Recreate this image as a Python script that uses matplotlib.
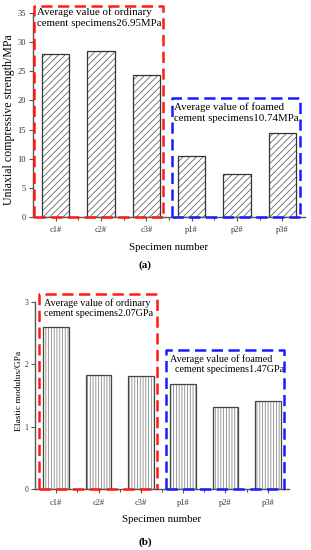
import matplotlib
matplotlib.use("Agg")
import matplotlib.pyplot as plt

plt.rcParams['font.family'] = ['Liberation Serif', 'DejaVu Serif']
plt.rcParams['hatch.linewidth'] = 0.6

specimens = ["c1#", "c2#", "c3#", "p1#", "p2#", "p3#"]
strength = [27.95, 28.45, 24.45, 10.45, 7.35, 14.45]
modulus = [2.59, 1.82, 1.81, 1.69, 1.31, 1.41]
ordinary_txt_a = "Average value of ordinary\ncement specimens26.95MPa"
foamed_txt_a = "Average value of foamed\ncement specimens10.74MPa"
ordinary_txt_b = "Average value of ordinary\ncement specimens2.07GPa"
foamed_txt_b = "Average value of foamed\n  cement specimens1.47GPa"

W, H = 311, 550
fig = plt.figure(figsize=(W / 100, H / 100), dpi=100)

spine_col = "#555555"


def style_axes(ax, ylab_size):
    for s in ["top", "right"]:
        ax.spines[s].set_visible(False)
    for s in ["left", "bottom"]:
        ax.spines[s].set_color(spine_col)
        ax.spines[s].set_linewidth(1.0)
    ax.tick_params(axis="y", direction="out", length=3, width=0.8,
                   colors=spine_col, labelsize=ylab_size,
                   labelcolor="#333333", pad=2)
    ax.tick_params(axis="x", which="major", direction="out", length=3,
                   width=0.8, colors=spine_col, labelsize=6,
                   labelcolor="#333333", pad=4)
    ax.tick_params(axis="x", which="minor", direction="out", length=2,
                   width=0.8, colors=spine_col)


def hatched_bars(ax, vals, hatch, hatch_col, edge_col):
    # hatch color follows edgecolor, so draw hatch and outline separately
    ax.bar(pos, vals, width=0.6, color="white", edgecolor=hatch_col,
           linewidth=0, hatch=hatch, zorder=2)
    ax.bar(pos, vals, width=0.6, color="none", edgecolor=edge_col,
           linewidth=0.9, zorder=3)


def dashed_box(ax, x0, x1, top, color):
    ax.plot([x0, x0, x1, x1], [0, top, top, 0], color=color, lw=1.8,
            ls=(0, (4.5, 2.2)), clip_on=False, zorder=5)
    ax.plot([x0, x1], [0, 0], color=color, lw=1.8, ls=(0, (4.5, 2.2)),
            clip_on=False, zorder=5)


pos = list(range(1, 7))
half = [p + 0.5 for p in pos[:-1]]

# panel (a)
ax1 = fig.add_axes([33 / W, 1 - 216.7 / H, 272 / W, 203.4 / H])
hatched_bars(ax1, strength, "/////", "#666666", "#333333")
ax1.set_xlim(0.5, 6.5)
ax1.set_ylim(0, 35)
ax1.set_yticks(range(0, 36, 5))
ax1.set_xticks(pos)
ax1.set_xticks(half, minor=True)
ax1.set_xticklabels(specimens)
style_axes(ax1, 6)
ax1.set_ylabel("Uniaxial compressive strength/MPa", fontsize=8.6)
ax1.yaxis.set_label_coords(-0.066, 0.475)
ax1.set_xlabel("Specimen number", fontsize=7.8, labelpad=6)
dashed_box(ax1, 0.52, 3.37, 36.3, "#ff1a1a")
dashed_box(ax1, 3.57, 6.39, 20.4, "#1a1aff")
ax1.text(0.58, 36.0, ordinary_txt_a, fontsize=7.8, va="top", ha="left",
         linespacing=1.2, clip_on=False)
ax1.text(3.62, 19.6, foamed_txt_a, fontsize=7.8, va="top", ha="left",
         linespacing=1.2)
fig.text(145 / W, 1 - 265 / H, "(a)", fontsize=8, fontweight="bold",
         ha="center", va="center")

# panel (b)
ax2 = fig.add_axes([35 / W, 1 - 489.3 / H, 254 / W, 187.6 / H])
hatched_bars(ax2, modulus, "||||||", "#888888", "#444444")
ax2.set_xlim(0.5, 6.5)
ax2.set_ylim(0, 3)
ax2.set_yticks([0, 1, 2, 3])
ax2.set_xticks(pos)
ax2.set_xticks(half, minor=True)
ax2.set_xticklabels(specimens)
style_axes(ax2, 5.5)
ax2.set_ylabel("Elastic modulus/GPa", fontsize=6.8)
ax2.yaxis.set_label_coords(-0.047, 0.524)
ax2.set_xlabel("Specimen number", fontsize=7.8, labelpad=6)
dashed_box(ax2, 0.59, 3.38, 3.12, "#ff1a1a")
dashed_box(ax2, 3.59, 6.38, 2.23, "#1a1aff")
ax2.text(0.72, 3.06, ordinary_txt_b, fontsize=7.3, va="top", ha="left",
         linespacing=1.2, clip_on=False)
ax2.text(3.68, 2.16, foamed_txt_b, fontsize=7.3, va="top", ha="left",
         linespacing=1.2)
fig.text(145 / W, 1 - 541.7 / H, "(b)", fontsize=8, fontweight="bold",
         ha="center", va="center")

fig.savefig("out.png", dpi=100)
